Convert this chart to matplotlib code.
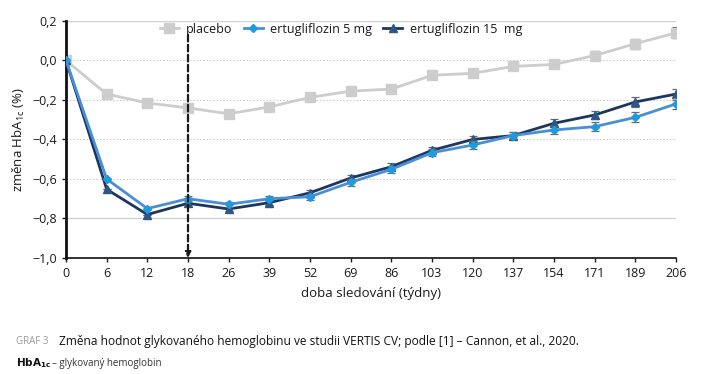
import matplotlib.pyplot as plt
from matplotlib.lines import Line2D
import numpy as np

plt.rcParams['font.family'] = ['Open Sans', 'DejaVu Sans']

weeks = ['0', '6', '12', '18', '26', '39', '52', '69', '86', '103', '120', '137', '154', '171', '189', '206']
placebo = [0.0, -0.17, -0.215, -0.24, -0.27, -0.235, -0.187, -0.155, -0.145, -0.075, -0.065, -0.03, -0.02, 0.025, 0.085, 0.14]
placebo_err = [0, 0, 0, 0, 0.012, 0.015, 0.015, 0.015, 0.015, 0.017, 0.017, 0.018, 0.018, 0.022, 0.025, 0.027]
erty5 = [0.0, -0.60, -0.75, -0.70, -0.728, -0.70, -0.69, -0.617, -0.551, -0.467, -0.428, -0.38, -0.352, -0.335, -0.288, -0.22]
erty5_err = [0, 0, 0, 0.012, 0.013, 0.014, 0.015, 0.017, 0.017, 0.018, 0.018, 0.018, 0.02, 0.022, 0.025, 0.028]
erty15 = [0.0, -0.652, -0.78, -0.723, -0.752, -0.72, -0.67, -0.595, -0.538, -0.455, -0.40, -0.38, -0.318, -0.276, -0.21, -0.17]
erty15_err = [0, 0, 0, 0, 0.01, 0.012, 0.015, 0.015, 0.017, 0.017, 0.018, 0.018, 0.02, 0.022, 0.025, 0.028]

x = np.arange(len(weeks))

fig = plt.figure(figsize=(7.12, 3.74), dpi=100)
ax = fig.add_axes([0.0927, 0.3102, 0.8567, 0.6337])

# grid lines
for yv in [0.0, -0.2, -0.4, -0.6]:
    ax.axhline(yv, color='#d0d0d0', lw=0.8, ls=(0, (1.5, 1.5)), zorder=0)
for yv in [0.2, -0.8]:
    ax.axhline(yv, color='#cfcfcf', lw=0.9, zorder=0)

ecol = '#6a6a6a'
styles = {
    'placebo': dict(color='#cdcdcd', marker='s', ms=7, mfc='#cdcdcd', mec='#cdcdcd'),
    'e15': dict(color='#1d3660', marker='^', ms=6, mfc='#2b5685', mec='#2b5685'),
    'e5': dict(color='#4a8fd6', marker='D', ms=4.5, mfc='#1e9be0', mec='#1e9be0'),
}
ax.errorbar(x, placebo, yerr=placebo_err, lw=2, ecolor=ecol, elinewidth=0.9, capsize=3,
            capthick=0.9, zorder=2, **styles['placebo'])
ax.errorbar(x, erty15, yerr=erty15_err, lw=2, ecolor=ecol, elinewidth=0.9, capsize=3,
            capthick=0.9, zorder=3, **styles['e15'])
ax.errorbar(x, erty5, yerr=erty5_err, lw=2, ecolor=ecol, elinewidth=0.9, capsize=3,
            capthick=0.9, zorder=4, **styles['e5'])

# dashed arrow at week 18
ax.annotate('', xy=(3, -1.0), xytext=(3, 0.13),
            arrowprops=dict(arrowstyle='-|>', color='#1a1a1a', lw=1.6, ls=(0, (3, 1.5)),
                            mutation_scale=8, shrinkA=0, shrinkB=0), zorder=5)

ax.set_xlim(0, 15)
ax.set_ylim(-1.0, 0.2)
ax.set_xticks(x)
ax.set_xticklabels(weeks)
yt = [0.2, 0.0, -0.2, -0.4, -0.6, -0.8, -1.0]
ax.set_yticks(yt)
ax.set_yticklabels([('\u2212' if v < 0 else '') + f'{abs(v):.1f}'.replace('.', ',') for v in yt])
ax.tick_params(axis='both', labelsize=9, colors='#1a1a1a', length=3, width=1)

for s in ['top', 'right']:
    ax.spines[s].set_visible(False)
ax.spines['left'].set_linewidth(2)
ax.spines['bottom'].set_linewidth(1.2)
ax.spines['left'].set_color('#111111')
ax.spines['bottom'].set_color('#111111')

ax.set_xlabel('doba sledování (týdny)', fontsize=9.5, color='#1a1a1a', labelpad=5)
ax.set_ylabel('změna HbA$_{\\mathregular{1c}}$ (%)', fontsize=9.5, color='#1a1a1a', labelpad=4)

handles = [Line2D([], [], lw=2, **styles['placebo']),
           Line2D([], [], lw=2, **styles['e5']),
           Line2D([], [], lw=2, **styles['e15'])]
labels = ['placebo', 'ertugliflozin 5 mg', 'ertugliflozin 15  mg']
leg = ax.legend(handles, labels, ncol=3, frameon=False,
                loc='upper center', bbox_to_anchor=(0.451, 1.04), fontsize=9,
                handlelength=1.5, columnspacing=0.9, handletextpad=0.6)
for t in leg.get_texts():
    t.set_color('#1a1a1a')

fig.text(0.023, 0.088, 'GRAF 3', fontsize=7, color='#999999', va='center')
fig.text(0.083, 0.088, 'Změna hodnot glykovaného hemoglobinu ve studii VERTIS CV; podle [1] – Cannon, et al., 2020.',
         fontsize=8.6, color='#111111', va='center')
fig.text(0.023, 0.029, r'$\mathbf{HbA_{1c}}$', fontsize=7.5, color='#111111', va='center')
fig.text(0.073, 0.029, '– glykovaný hemoglobin', fontsize=7, color='#333333', va='center')

fig.savefig('out.png', dpi=100)
